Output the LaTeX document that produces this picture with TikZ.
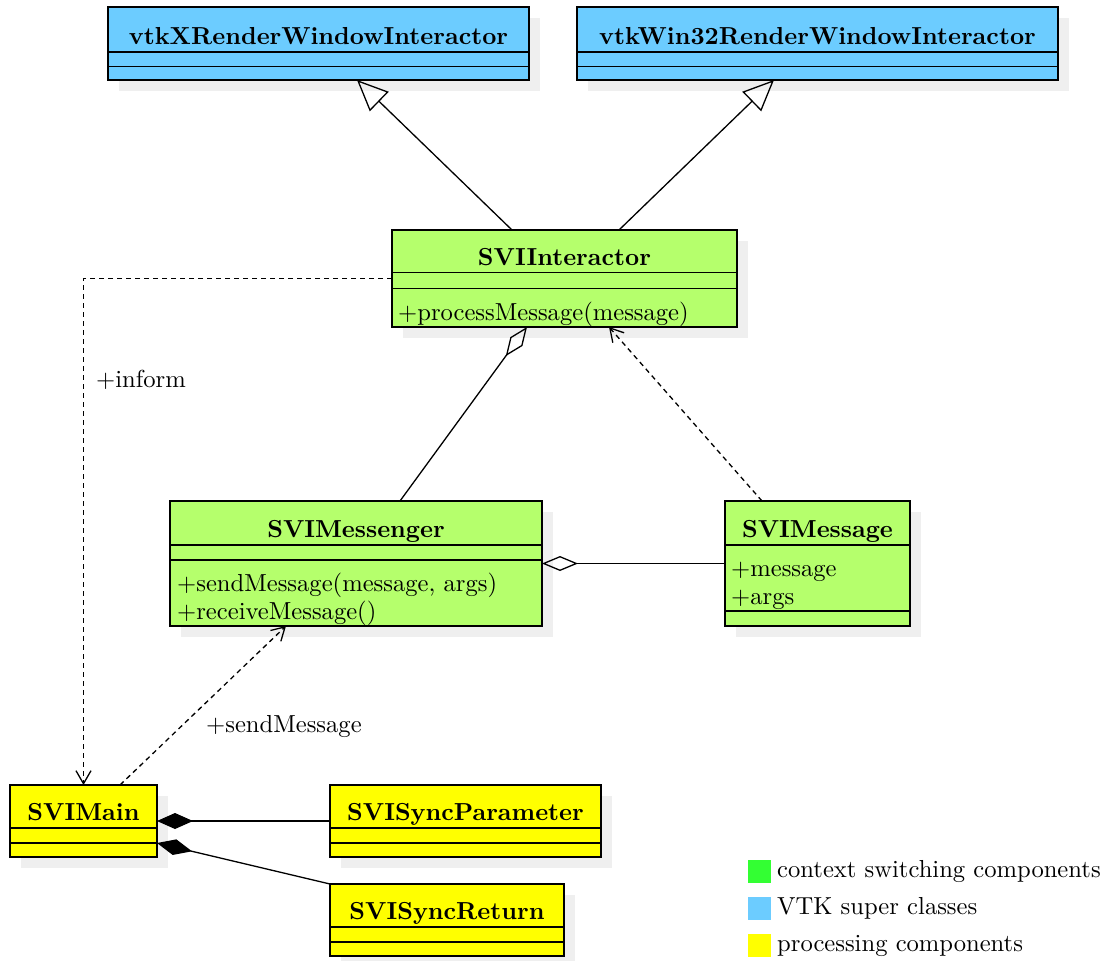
\documentclass[tikz,border=0pt]{standalone}
\usepackage{fontspec}
\setmainfont{lmroman10-regular.otf}[BoldFont=lmroman10-bold.otf]
\usetikzlibrary{arrows.meta}
\definecolor{vtkblue}{HTML}{6CCCFF}
\definecolor{ctxgreen}{HTML}{B5FF6C}
\definecolor{procyellow}{HTML}{FFFF00}
\definecolor{legendgreen}{HTML}{33FF33}
\definecolor{shadowgray}{HTML}{EFEFEF}
\newcommand\diagfont{\fontsize{24.6}{28}\selectfont}

% class box: name, left, top, right, bottom, fill colour (with drop shadow)
\newcommand\umlclass[6]{%
  \fill[shadowgray] (#2+11,#3+11) rectangle (#4+11,#5+11);
  \node[classbox, fill=#6, minimum width={#4pt-#2pt}, minimum height={#5pt-#3pt}]
    (#1) at ({(#2+#4)/2},{(#3+#5)/2}) {};
}
% horizontal compartment separator inside a class box
\newcommand\compline[2]{\draw[classline] (#1.west |- 0,#2) -- (#1.east |- 0,#2);}

\begin{document}
\begin{tikzpicture}[x=1pt,y=-1pt,
  every node/.style={font=\diagfont, inner sep=0pt},
  classbox/.style={draw, line width=1.6pt, inner sep=0pt, outer sep=0pt, rectangle},
  classline/.style={line width=1.6pt},
  classname/.style={anchor=base, font=\diagfont\bfseries},
  member/.style={anchor=base west},
  link/.style={line width=1.3pt},
  dep/.style={line width=1.3pt, dash pattern=on 5pt off 4pt},
  generalize/.style={link, -{Triangle[open, length=31pt, width=27pt]}},
  aggregate/.style={link, -{Diamond[open, length=36pt, width=15pt]}},
  compose/.style={link, -{Diamond[length=36pt, width=16pt]}},
  usearrow/.style={dep, -{Straight Barb[length=13pt, width=15pt]}},
  legendsq/.style={fill=#1, draw=none}
]
\useasboundingbox (0,0) rectangle (1112,961);

% VTK super classes
\umlclass{vtkX}{108}{7}{529}{80}{vtkblue}
\compline{vtkX}{52}\compline{vtkX}{66.5}
\node[classname] (vtkXname) at (318.5,44) {vtkXRenderWindowInteractor};

\umlclass{vtkW}{577}{7}{1058}{80}{vtkblue}
\compline{vtkW}{52}\compline{vtkW}{66.5}
\node[classname] (vtkWname) at (817.5,44) {vtkWin32RenderWindowInteractor};

% context switching components
\umlclass{SVIInteractor}{392}{230}{737}{327}{ctxgreen}
\compline{SVIInteractor}{272.5}\compline{SVIInteractor}{288.5}
\node[classname] (intname) at (564.5,265) {SVIInteractor};
\node[member] (intm1) at (398,320) {+processMessage(message)};

\umlclass{SVIMessenger}{170}{501}{542}{626}{ctxgreen}
\compline{SVIMessenger}{545}\compline{SVIMessenger}{560}
\node[classname] (msgrname) at (356,537) {SVIMessenger};
\node[member] (msgrm1) at (177,591) {+sendMessage(message, args)};
\node[member] (msgrm2) at (177,619) {+receiveMessage()};

\umlclass{SVIMessage}{725}{501}{910}{626}{ctxgreen}
\compline{SVIMessage}{545}\compline{SVIMessage}{611}
\node[classname] (msgname) at (817.5,537) {SVIMessage};
\node[member] (msga1) at (731,576) {+message};
\node[member] (msga2) at (731,604) {+args};

% processing components
\umlclass{SVIMain}{10}{785}{157}{857}{procyellow}
\compline{SVIMain}{828}\compline{SVIMain}{843}
\node[classname] (mainname) at (83.5,820) {SVIMain};

\umlclass{SVISyncParameter}{330}{785}{601}{857}{procyellow}
\compline{SVISyncParameter}{828}\compline{SVISyncParameter}{843}
\node[classname] (parname) at (465.5,820) {SVISyncParameter};

\umlclass{SVISyncReturn}{330}{884}{564}{956}{procyellow}
\compline{SVISyncReturn}{927}\compline{SVISyncReturn}{942}
\node[classname] (retname) at (447,919) {SVISyncReturn};

% relations
\draw[generalize] ([xshift=-52.5pt]SVIInteractor.north) -- ([xshift=38.5pt]vtkX.south);
\draw[generalize] ([xshift=54.5pt]SVIInteractor.north) -- ([xshift=-43.5pt]vtkW.south);
\draw[aggregate] ([xshift=44pt]SVIMessenger.north) -- ([xshift=-37.5pt]SVIInteractor.south);
\draw[usearrow] ([xshift=-55.5pt]SVIMessage.north) -- ([xshift=44.5pt]SVIInteractor.south);
\draw[aggregate] (SVIMessage.west) -- (SVIMessenger.east);
\draw[usearrow] (SVIInteractor.west) -| (SVIMain.north);
\draw[usearrow] ([xshift=36.5pt]SVIMain.north) -- ([xshift=-70pt]SVIMessenger.south);
\draw[compose] (SVISyncParameter.west) -- (SVIMain.east);
\draw[compose] (SVISyncReturn.north west) -- ([yshift=14pt]SVIMain.south east);

\node[member] (informlabel) at (96,387) {+inform};
\node[member] (sendlabel) at (206,732) {+sendMessage};

% legend
\fill[legendsq=legendgreen] (748,860) rectangle (771,883);
\fill[legendsq=vtkblue] (748,897) rectangle (771,920);
\fill[legendsq=procyellow] (748,934) rectangle (771,957);
\node[member] (leg1) at (777,877) {context switching components};
\node[member] (leg2) at (777,914) {VTK super classes};
\node[member] (leg3) at (777,951) {processing components};
\end{tikzpicture}
\end{document}
